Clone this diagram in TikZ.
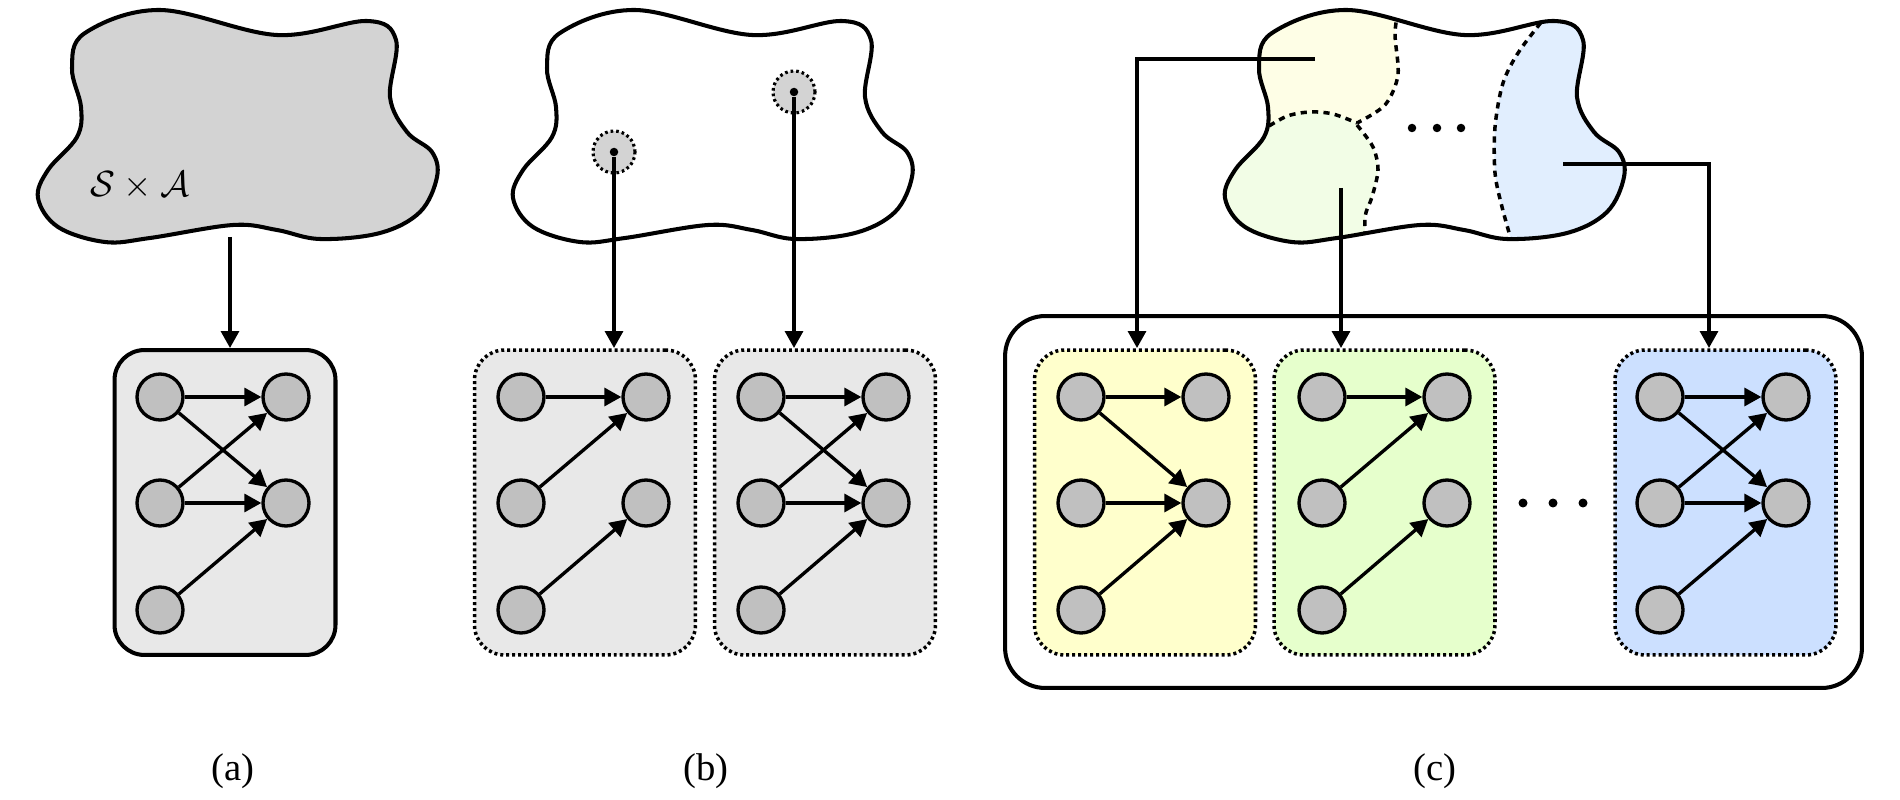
\documentclass[tikz,border=0pt]{standalone}
\usepackage{fontspec}
\setmainfont{Liberation Serif}
\usetikzlibrary{arrows.meta}
\definecolor{nodegray}{HTML}{C0C0C0}
\definecolor{boxgray}{HTML}{E8E8E8}
\definecolor{blobgray}{HTML}{D3D3D3}
\definecolor{boxyellow}{HTML}{FFFFCC}
\definecolor{boxgreen}{HTML}{E6FFCC}
\definecolor{boxblue}{HTML}{CCE0FF}
\definecolor{regyellow}{HTML}{FEFEE6}
\definecolor{reggreen}{HTML}{F2FDE6}
\definecolor{regblue}{HTML}{E1EEFE}
\newcommand{\blob}[1]{\path[#1] plot[smooth cycle, tension=.6] coordinates {(85,33) (160,10) (277,35) (367,21) (396,40) (390,97) (407,132) (432,152) (437,177) (420,212) (380,233) (320,239) (277,230) (233,225) (150,238) (105,242) (58,227) (38,198) (48,170) (77,137) (81,107) (72,68)};}
\begin{document}
\begin{tikzpicture}[x=0.02cm, y=-0.02cm,
  vert/.style={circle, draw, line width=1.9pt, fill=nodegray, minimum size=0.92cm, inner sep=0pt},
  edge/.style={line width=1.9pt, -{Triangle[length=0.34cm, width=0.36cm]}},
  gbox/.style={draw, line width=2.3pt, rounded corners=0.6cm, minimum width=4.42cm, minimum height=6.1cm, inner sep=0pt},
  dbox/.style={gbox, line width=2pt, dash pattern=on 1.7pt off 1.7pt},
  lbl/.style={font=\fontsize{22}{26}\selectfont}]
\useasboundingbox (0,0) rectangle (1900,800);
% (a)
\blob{draw, fill=blobgray, line width=2.3pt}
\node[font=\fontsize{20}{24}\selectfont] (sa) at (140,186) {$\mathcal{S}\times\mathcal{A}$};
\coordinate (aout) at (230,237);
\coordinate (ain) at (230,348);
\draw[edge] (aout) -- (ain);
\node[gbox, fill=boxgray] (abox) at (225,502.5) {};
\node[vert] (a-l1) at (160,397) {};
\node[vert] (a-l2) at (160,503) {};
\node[vert] (a-l3) at (160,610) {};
\node[vert] (a-r1) at (286,397) {};
\node[vert] (a-r2) at (286,503) {};
\draw[edge] (a-l1) -- (a-r1);
\draw[edge] (a-l1) -- (a-r2);
\draw[edge] (a-l2) -- (a-r1);
\draw[edge] (a-l2) -- (a-r2);
\draw[edge] (a-l3) -- (a-r2);
\node[lbl] (lbla) at (233,771) {(a)};
% (b)
\blob{draw, line width=2.3pt, shift={(475,0)}}
\node[circle, fill=blobgray, draw, line width=1.8pt, dash pattern=on 1.5pt off 1.7pt, minimum size=0.84cm] (bball1) at (614,152) {};
\node[circle, fill=blobgray, draw, line width=1.8pt, dash pattern=on 1.5pt off 1.7pt, minimum size=0.84cm] (bball2) at (794,92) {};
\node[circle, fill, inner sep=0pt, minimum size=0.17cm] (bpt1) at (614,152) {};
\node[circle, fill, inner sep=0pt, minimum size=0.17cm] (bpt2) at (794,92) {};
\coordinate (b1in) at (614,348);
\coordinate (b2in) at (794,348);
\draw[edge] (bpt1) -- (b1in);
\draw[edge] (bpt2) -- (b2in);
\node[dbox, fill=boxgray] (b1box) at (585,502.5) {};
\node[dbox, fill=boxgray] (b2box) at (825,502.5) {};
\node[vert] (b1-l1) at (521,397) {};
\node[vert] (b1-l2) at (521,503) {};
\node[vert] (b1-l3) at (521,610) {};
\node[vert] (b1-r1) at (646,397) {};
\node[vert] (b1-r2) at (646,503) {};
\draw[edge] (b1-l1) -- (b1-r1);
\draw[edge] (b1-l2) -- (b1-r1);
\draw[edge] (b1-l3) -- (b1-r2);
\node[vert] (b2-l1) at (761,397) {};
\node[vert] (b2-l2) at (761,503) {};
\node[vert] (b2-l3) at (761,610) {};
\node[vert] (b2-r1) at (886,397) {};
\node[vert] (b2-r2) at (886,503) {};
\draw[edge] (b2-l1) -- (b2-r1);
\draw[edge] (b2-l1) -- (b2-r2);
\draw[edge] (b2-l2) -- (b2-r1);
\draw[edge] (b2-l2) -- (b2-r2);
\draw[edge] (b2-l3) -- (b2-r2);
\node[lbl] (lblb) at (706,771) {(b)};
% (c)
\begin{scope}
\blob{clip, shift={(1187,0)}}
\fill[regyellow] plot[smooth] coordinates {(1400,0) (1395,33) (1398,75) (1385,105) (1357,123)} -- plot[smooth] coordinates {(1357,123) (1333,114) (1310,112) (1285,117) (1262,132)} -- (1200,132) -- (1200,0) -- cycle;
\fill[reggreen] plot[smooth] coordinates {(1250,138) (1285,117) (1310,112) (1333,114) (1357,123)} -- plot[smooth] coordinates {(1357,125) (1373,147) (1378,170) (1372,197) (1365,217) (1366,250)} -- (1200,250) -- (1200,138) -- cycle;
\fill[regblue] plot[smooth] coordinates {(1555,5) (1520,50) (1503,83) (1495,127) (1495,173) (1502,207) (1514,250)} -- (1650,250) -- (1650,5) -- cycle;
\draw[line width=2pt, dash pattern=on 3.5pt off 3pt] plot[smooth] coordinates {(1400,0) (1395,33) (1398,75) (1385,105) (1357,123)};
\draw[line width=2pt, dash pattern=on 3.5pt off 3pt] plot[smooth] coordinates {(1250,138) (1285,117) (1310,112) (1333,114) (1357,123)};
\draw[line width=2pt, dash pattern=on 3.5pt off 3pt] plot[smooth] coordinates {(1357,125) (1373,147) (1378,170) (1372,197) (1365,217) (1366,250)};
\draw[line width=2pt, dash pattern=on 3.5pt off 3pt] plot[smooth] coordinates {(1555,5) (1520,50) (1503,83) (1495,127) (1495,173) (1502,207) (1514,250)};
\end{scope}
\blob{draw, line width=2.3pt, shift={(1187,0)}}
\fill (1412,128) circle[radius=0.085cm];
\fill (1437,128) circle[radius=0.085cm];
\fill (1461,128) circle[radius=0.085cm];
\node[draw, line width=2.3pt, rounded corners=0.8cm, minimum width=17.14cm, minimum height=7.44cm] (cbox) at (1433.5,502) {};
\coordinate (cy) at (1315,59);
\coordinate (cg) at (1341,188);
\coordinate (cb) at (1563,164);
\coordinate (c1in) at (1137,348);
\coordinate (c2in) at (1341,348);
\coordinate (c3in) at (1709,348);
\draw[edge] (cy) -| (c1in);
\draw[edge] (cg) -- (c2in);
\draw[edge] (cb) -| (c3in);
\node[dbox, fill=boxyellow] (c1box) at (1145,502.5) {};
\node[dbox, fill=boxgreen] (c2box) at (1384.5,502.5) {};
\node[dbox, fill=boxblue] (c3box) at (1725.5,502.5) {};
\node[vert] (c1-l1) at (1081,397) {};
\node[vert] (c1-l2) at (1081,503) {};
\node[vert] (c1-l3) at (1081,610) {};
\node[vert] (c1-r1) at (1206,397) {};
\node[vert] (c1-r2) at (1206,503) {};
\draw[edge] (c1-l1) -- (c1-r1);
\draw[edge] (c1-l1) -- (c1-r2);
\draw[edge] (c1-l2) -- (c1-r2);
\draw[edge] (c1-l3) -- (c1-r2);
\node[vert] (c2-l1) at (1322,397) {};
\node[vert] (c2-l2) at (1322,503) {};
\node[vert] (c2-l3) at (1322,610) {};
\node[vert] (c2-r1) at (1447,397) {};
\node[vert] (c2-r2) at (1447,503) {};
\draw[edge] (c2-l1) -- (c2-r1);
\draw[edge] (c2-l2) -- (c2-r1);
\draw[edge] (c2-l3) -- (c2-r2);
\fill (1523,503) circle[radius=0.09cm];
\fill (1553,503) circle[radius=0.09cm];
\fill (1583,503) circle[radius=0.09cm];
\node[vert] (c3-l1) at (1660,397) {};
\node[vert] (c3-l2) at (1660,503) {};
\node[vert] (c3-l3) at (1660,610) {};
\node[vert] (c3-r1) at (1786,397) {};
\node[vert] (c3-r2) at (1786,503) {};
\draw[edge] (c3-l1) -- (c3-r1);
\draw[edge] (c3-l1) -- (c3-r2);
\draw[edge] (c3-l2) -- (c3-r1);
\draw[edge] (c3-l2) -- (c3-r2);
\draw[edge] (c3-l3) -- (c3-r2);
\node[lbl] (lblc) at (1435,771) {(c)};
\end{tikzpicture}
\end{document}
